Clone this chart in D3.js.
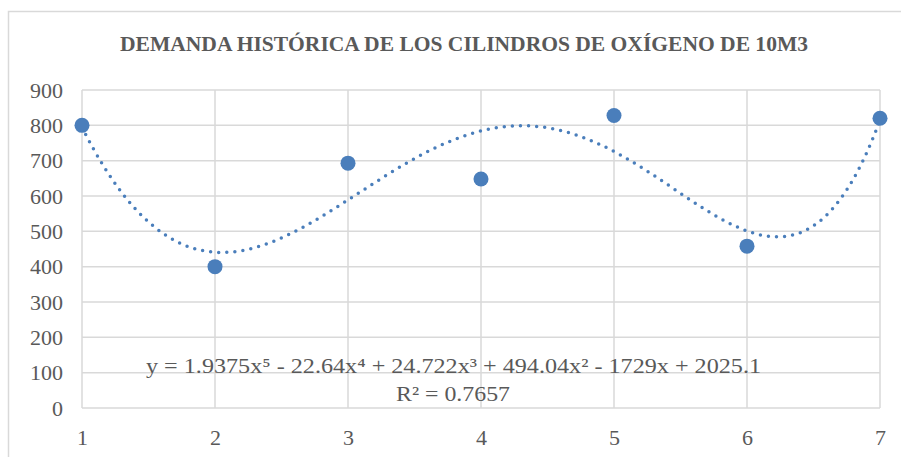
<!DOCTYPE html>
<html>
<head>
<meta charset="utf-8">
<script src="https://cdn.jsdelivr.net/npm/d3@7"></script>
<style>
html,body{margin:0;padding:0;background:#fff;}
svg{display:block;}
</style>
</head>
<body>
<svg id="chart" width="901" height="457"></svg>
<script>
const title = "DEMANDA HISTÓRICA DE LOS CILINDROS DE OXÍGENO DE 10M3";
const periods = [1, 2, 3, 4, 5, 6, 7];
const demand = [800, 400, 693, 648, 828, 458, 820];
const yTicks = [0, 100, 200, 300, 400, 500, 600, 700, 800, 900];
const xTicks = [1, 2, 3, 4, 5, 6, 7];
// trendline coefficients (constant term first), as shown in the chart label
const trendCoefs = [2025.1, -1729, 494.04, 24.722, -22.64, 1.9375];
const equationText = "y = 1.9375x⁵ - 22.64x⁴ + 24.722x³ + 494.04x² - 1729x + 2025.1";
const r2Text = "R² = 0.7657";

const svg = d3.select("#chart");
const W = 901, H = 457;
const margin = {left: 82, right: 21, top: 90, bottom: 49};
const x = d3.scaleLinear().domain([1, 7]).range([margin.left, W - margin.right]);
const y = d3.scaleLinear().domain([0, 900]).range([H - margin.bottom, margin.top]);

const grid = "#d9d9d9";
const textCol = "#595959";
const blue = "#4a7ebb";
const serif = "'Liberation Serif', 'Times New Roman', serif";

// outer border
svg.append("rect").attr("x", 8.5).attr("y", 11.5).attr("width", W + 20).attr("height", H + 20)
  .attr("fill", "none").attr("stroke", grid).attr("stroke-width", 1.5);

// title
svg.append("text").attr("x", 120).attr("y", 51)
  .style("font-family", serif).style("font-weight", "bold")
  .style("font-size", "20px").attr("fill", textCol)
  .attr("textLength", 688).attr("lengthAdjust", "spacingAndGlyphs").text(title);

// horizontal gridlines
svg.append("g").selectAll("line").data(yTicks).join("line")
  .attr("x1", x(1)).attr("x2", x(7)).attr("y1", d => y(d)).attr("y2", d => y(d))
  .attr("stroke", grid).attr("stroke-width", 1.5);
// vertical gridlines
svg.append("g").selectAll("line").data(xTicks).join("line")
  .attr("x1", d => x(d)).attr("x2", d => x(d)).attr("y1", y(0)).attr("y2", y(900))
  .attr("stroke", grid).attr("stroke-width", 1.5);

// axes labels using d3 axes
const yAxis = svg.append("g").attr("transform", `translate(${x(1) - 19},0)`)
  .call(d3.axisLeft(y).tickValues(yTicks).tickSize(0).tickPadding(0).tickFormat(d3.format("d")));
const xAxis = svg.append("g").attr("transform", `translate(0,${y(0) + 21})`)
  .call(d3.axisBottom(x).tickValues(xTicks).tickSize(0).tickPadding(0).tickFormat(d3.format("d")));
[yAxis, xAxis].forEach(a => {
  a.select(".domain").remove();
  a.attr("font-family", null).attr("font-size", null);
  a.selectAll("text").style("font-family", serif)
    .style("font-size", "22px").attr("fill", textCol);
});
xAxis.selectAll("text").attr("dy", "0.71em");

// trendline
const poly = t => trendCoefs.reduce((s, c, i) => s + c * Math.pow(t, i), 0);
const trendPts = d3.range(0, 601).map(i => 1 + i * 6 / 600).map(t => [t, poly(t)]);
svg.append("path").datum(trendPts)
  .attr("d", d3.line().x(d => x(d[0])).y(d => y(d[1])).curve(d3.curveLinear))
  .attr("fill", "none").attr("stroke", blue).attr("stroke-width", 3.5)
  .attr("stroke-linecap", "round").attr("stroke-dasharray", "0 8.1");

// points
svg.append("g").selectAll("circle").data(periods).join("circle")
  .attr("cx", d => x(d)).attr("cy", (d, i) => y(demand[i])).attr("r", 7.5)
  .attr("fill", blue);

// equation
const eq = svg.append("g").style("font-family", serif)
  .style("font-size", "22px").attr("fill", textCol);
eq.append("text").attr("x", 146).attr("y", 373)
  .attr("textLength", 615).attr("lengthAdjust", "spacingAndGlyphs").text(equationText);
eq.append("text").attr("x", 396).attr("y", 401)
  .attr("textLength", 114).attr("lengthAdjust", "spacingAndGlyphs").text(r2Text);
</script>
</body>
</html>
